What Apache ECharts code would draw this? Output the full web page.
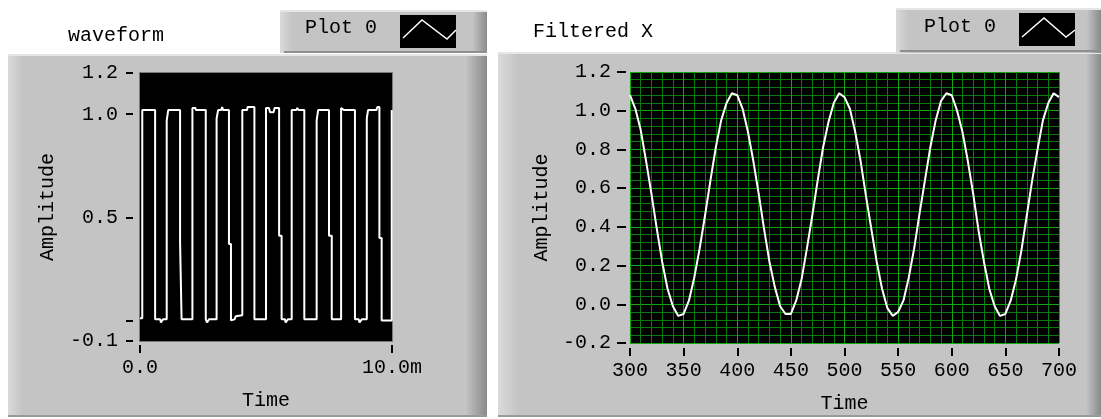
<!DOCTYPE html>
<html><head><meta charset="utf-8">
<script src="https://cdn.jsdelivr.net/npm/echarts@6/dist/echarts.min.js"></script>
<style>html,body{margin:0;padding:0;background:#fff;}#c{width:1101px;height:419px;}</style>
</head><body><div id="c"></div>
<script>
// ---- texts ----
const leftTitle = 'waveform';
const rightTitle = 'Filtered X';
const plotName = 'Plot 0';
const xName = 'Time';
const yName = 'Amplitude';

// ---- left chart (square wave), time in ms ----
const waveformSamples = [
  [0,0.01],[0.09,0.01],[0.09,1.02],[0.60,1.02],[0.60,0.005],
  [0.80,0.005],[0.83,-0.01],[0.88,-0.01],[0.91,0.005],
  [1.06,0.005],[1.06,0.97],[1.12,0.97],[1.12,1.02],
  [1.59,1.02],[1.59,0.38],[1.65,0.38],[1.65,0.005],
  [2.08,0.005],[2.08,1.03],[2.20,1.03],[2.22,1.02],
  [2.61,1.02],[2.61,0.005],[2.66,-0.01],[2.72,-0.01],[2.74,0.005],
  [3.04,0.005],[3.04,0.98],[3.10,0.98],[3.10,1.02],[3.22,1.02],[3.26,1.035],[3.30,1.02],
  [3.53,1.02],[3.53,0.37],[3.61,0.37],[3.61,0.0],[3.75,0.005],[3.80,0.02],
  [4.06,0.025],[4.06,1.02],[4.25,1.02],[4.27,1.035],
  [4.54,1.035],[4.54,0.005],
  [5.00,0.005],[5.00,1.03],[5.12,1.03],[5.16,1.01],[5.30,1.01],[5.34,1.03],
  [5.52,1.03],[5.52,0.41],[5.62,0.41],[5.62,0.005],
  [5.75,0.005],[5.78,-0.01],[5.84,-0.01],[5.87,0.005],
  [6.02,0.005],[6.02,1.02],[6.20,1.02],[6.24,1.03],[6.30,1.02],
  [6.52,1.02],[6.52,0.005],
  [7.01,0.005],[7.01,0.97],[7.07,0.97],[7.07,1.02],
  [7.50,1.02],[7.50,0.41],[7.61,0.41],[7.61,0.005],
  [7.98,0.005],[7.98,1.03],[8.10,1.02],
  [8.53,1.02],[8.53,0.005],
  [8.68,0.005],[8.71,-0.01],[8.77,-0.01],[8.80,0.005],
  [9.00,0.005],[9.00,0.98],[9.05,0.98],[9.05,1.02],[9.38,1.02],[9.42,1.035],
  [9.50,1.035],[9.50,0.40],[9.59,0.40],[9.59,0.0],
  [9.99,0.0],[9.99,1.02],[10.0,1.02]
];
const waveYTicks = [-0.1, 0, 0.5, 1.0, 1.2];
const waveYLabels = [-0.1, 0.5, 1.0, 1.2];
const waveXLabels = {0: '0.0', 10: '10.0m'};

// ---- right chart (filtered) ----
const filtTime = [
  300,305,310,315,320,325,330,335,340,345,350,355,360,365,370,375,380,385,390,395,
  400,405,410,415,420,425,430,435,440,445,450,455,460,465,470,475,480,485,490,495,
  500,505,510,515,520,525,530,535,540,545,550,555,560,565,570,575,580,585,590,595,
  600,605,610,615,620,625,630,635,640,645,650,655,660,665,670,675,680,685,690,695,
  700
];
const filtAmp = [
  1.08,1.01,0.90,0.74,0.57,0.39,0.22,0.08,-0.01,-0.06,-0.05,0.02,0.14,0.29,0.46,0.64,0.81,0.95,1.04,1.09,
  1.08,1.01,0.89,0.74,0.57,0.39,0.22,0.09,-0.01,-0.05,-0.05,0.02,0.13,0.29,0.46,0.64,0.81,0.94,1.04,1.09,
  1.07,1.01,0.89,0.74,0.56,0.39,0.22,0.08,-0.02,-0.06,-0.04,0.02,0.14,0.29,0.47,0.64,0.81,0.95,1.05,1.09,
  1.08,1.00,0.89,0.74,0.57,0.38,0.22,0.08,-0.01,-0.06,-0.05,0.02,0.13,0.28,0.46,0.64,0.80,0.95,1.04,1.09,
  1.07
];

const FONT = '"Liberation Mono", "DejaVu Sans Mono", monospace';
const FS = 20;
const txt = {color:'#000', fontFamily:FONT, fontSize:FS};
const fmt1 = v => (Math.abs(v) < 1e-9 ? 0 : v).toFixed(1);

const GRAY = '#c4c4c4';
function panelFill(lightFrac, darkFrac){
  return {type:'linear', x:0, y:0, x2:1, y2:0, colorStops:[
    {offset:0, color:'#dadada'}, {offset:lightFrac, color:GRAY},
    {offset:darkFrac, color:GRAY}, {offset:1, color:'#8a8a8a'}]};
}
const tickStyle = {color:'#000', width:2};
const noLine = {show:false, onZero:false};
const majorGrid = {show:true, lineStyle:{color:'#12a812', width:1}};
const minorGrid = {show:true, lineStyle:{color:'#0a7a0a', width:1}};

const chart = echarts.init(document.getElementById('c'), null, {renderer:'canvas'});
chart.setOption({
  animation:false,
  backgroundColor:'#fff',
  title:[
    {text:leftTitle, left:68, top:26, padding:0, textStyle:{...txt, fontWeight:'normal'}},
    {text:rightTitle, left:533, top:22, padding:0, textStyle:{...txt, fontWeight:'normal'}}
  ],
  graphic:[
    // panels
    {type:'rect', z:-10, shape:{x:8, y:54, width:479, height:363}, style:{fill:panelFill(0.03,0.955)}},
    {type:'rect', z:-10, shape:{x:498, y:52, width:603, height:365}, style:{fill:panelFill(0.035,0.975)}},
    {type:'rect', z:-9, shape:{x:8, y:54, width:479, height:2}, style:{fill:'#e6e6e6'}},
    {type:'rect', z:-9, shape:{x:498, y:52, width:603, height:2}, style:{fill:'#e6e6e6'}},
    {type:'rect', z:-9, shape:{x:8, y:415, width:479, height:2}, style:{fill:'#9a9a9a'}},
    {type:'rect', z:-9, shape:{x:498, y:415, width:603, height:2}, style:{fill:'#9a9a9a'}},
    // legend boxes
    {type:'rect', z:-8, shape:{x:280, y:10, width:207, height:43}, style:{fill:panelFill(0.06,0.93)}},
    {type:'rect', z:-8, shape:{x:896, y:8, width:205, height:45}, style:{fill:panelFill(0.06,0.93)}},
    {type:'rect', z:-7, shape:{x:280, y:10, width:207, height:2}, style:{fill:'#e6e6e6'}},
    {type:'rect', z:-7, shape:{x:896, y:8, width:205, height:2}, style:{fill:'#e6e6e6'}},
    {type:'rect', z:-7, shape:{x:284, y:51, width:203, height:2}, style:{fill:'#8f8f8f'}},
    {type:'rect', z:-7, shape:{x:900, y:50, width:201, height:2}, style:{fill:'#8f8f8f'}},
    {type:'text', z:5, style:{text:plotName, x:305, y:28, verticalAlign:'middle', fill:'#000', font:FS+'px '+FONT}},
    {type:'text', z:5, style:{text:plotName, x:924, y:27, verticalAlign:'middle', fill:'#000', font:FS+'px '+FONT}},
    {type:'rect', z:5, shape:{x:400, y:15, width:56, height:33}, style:{fill:'#000'}},
    {type:'rect', z:5, shape:{x:1019, y:13, width:56, height:33}, style:{fill:'#000'}},
    {type:'polyline', z:6, shape:{points:[[403,38],[422,20],[447,39],[456,30]]}, style:{stroke:'#fff', lineWidth:1.5, fill:null}},
    {type:'polyline', z:6, shape:{points:[[1022,37],[1044,18],[1066,37],[1075,30]]}, style:{stroke:'#fff', lineWidth:1.5, fill:null}},
    // thin border round the left plot
    {type:'rect', z:-1, shape:{x:139, y:72, width:254, height:270}, style:{fill:'#7a7a7a'}}
  ],
  grid:[
    {left:140, top:73, width:252, height:268, show:true, backgroundColor:'#000', borderWidth:0},
    {left:630, top:72, width:429, height:272, show:true, backgroundColor:'#000', borderWidth:0}
  ],
  xAxis:[
    {gridIndex:0, type:'value', min:0, max:10, interval:10, offset:4, position:'bottom',
     axisLine:noLine, axisTick:{show:true, length:8, lineStyle:tickStyle},
     axisLabel:{...txt, margin:13, formatter:v => waveXLabels[v] !== undefined ? waveXLabels[v] : ''},
     splitLine:{show:false},
     name:xName, nameLocation:'middle', nameGap:46, nameTextStyle:{...txt}},
    {gridIndex:1, type:'value', min:300, max:700, interval:50, offset:5, position:'bottom',
     axisLine:noLine, axisTick:{show:true, length:8, lineStyle:tickStyle},
     axisLabel:{...txt, margin:13},
     splitLine:majorGrid,
     minorTick:{show:false, splitNumber:5},
     minorSplitLine:minorGrid,
     name:xName, nameLocation:'middle', nameGap:46, nameTextStyle:{...txt}}
  ],
  yAxis:[
    {gridIndex:0, type:'value', min:-0.1, max:1.2, interval:0.1, offset:7, position:'left',
     axisLine:noLine,
     axisTick:{show:true, length:7, customValues:waveYTicks, lineStyle:tickStyle},
     axisLabel:{...txt, margin:15, customValues:waveYLabels, formatter:fmt1},
     splitLine:{show:false},
     name:yName, nameLocation:'middle', nameGap:75, nameTextStyle:{...txt}},
    {gridIndex:1, type:'value', min:-0.2, max:1.2, interval:0.2, offset:4, position:'left',
     axisLine:noLine,
     axisTick:{show:true, length:9, lineStyle:tickStyle},
     axisLabel:{...txt, margin:15, formatter:fmt1},
     splitLine:majorGrid,
     minorTick:{show:false, splitNumber:5},
     minorSplitLine:minorGrid,
     name:yName, nameLocation:'middle', nameGap:74, nameTextStyle:{...txt}}
  ],
  series:[
    {name:plotName, type:'line', xAxisIndex:0, yAxisIndex:0, data:waveformSamples,
     symbol:'none', showSymbol:false, smooth:false, clip:true, z:5,
     lineStyle:{color:'#fff', width:2}},
    {name:plotName, type:'line', xAxisIndex:1, yAxisIndex:1,
     data:filtTime.map((t,i) => [t, filtAmp[i]]),
     symbol:'none', showSymbol:false, smooth:false, clip:true, z:5,
     lineStyle:{color:'#fff', width:2}}
  ]
});
</script></body></html>
